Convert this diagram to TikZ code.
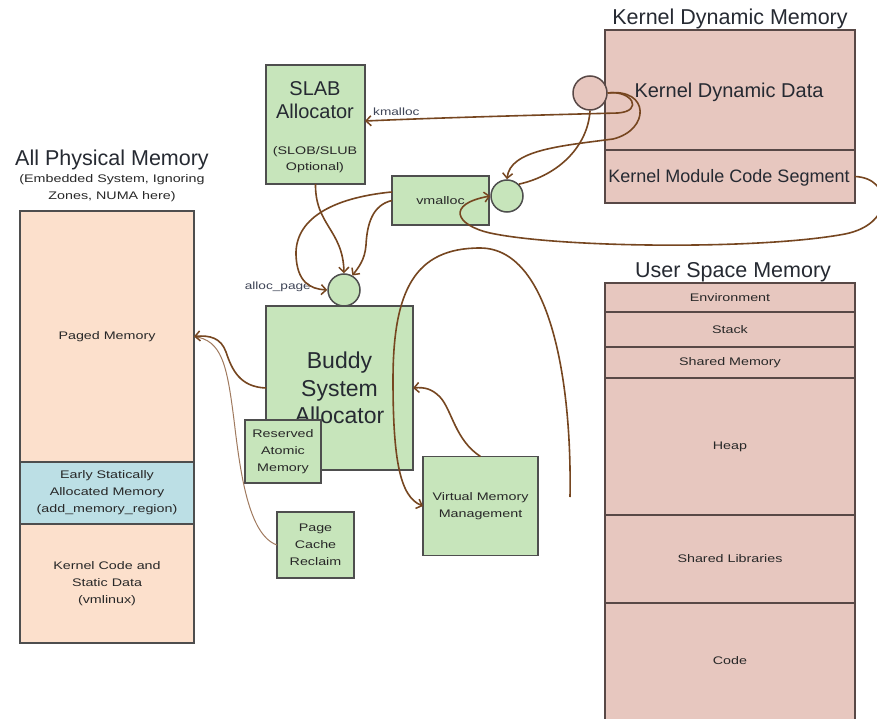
\documentclass[tikz,border=0pt]{standalone}
\usepackage{fontspec}
\setmainfont{Liberation Sans}
\newfontfamily\widesans[FakeStretch=1.3]{Liberation Sans}
\usetikzlibrary{arrows.meta}

\definecolor{peach}{RGB}{252,224,204}
\definecolor{paleblue}{RGB}{188,223,229}
\definecolor{kpink}{RGB}{231,199,191}
\definecolor{boxgreen}{RGB}{199,229,187}
\definecolor{edgegray}{RGB}{78,78,78}
\definecolor{kedge}{RGB}{88,72,70}
\definecolor{flowbrown}{RGB}{118,70,32}
\definecolor{thinbrown}{RGB}{160,122,95}
\definecolor{titleink}{RGB}{38,42,50}
\definecolor{smallink}{RGB}{40,40,40}
\definecolor{labelink}{RGB}{62,68,86}

\begin{document}
\begin{tikzpicture}[x=1pt,y=-1pt,
  region/.style={draw=edgegray, line width=1.4pt, inner sep=0pt, outer sep=0pt,
    minimum width=174, font=\widesans\fontsize{11}{17}\selectfont, text=smallink, align=center},
  kregion/.style={draw=kedge, fill=kpink, line width=1.4pt, inner sep=0pt, outer sep=0pt,
    minimum width=250, text=smallink, align=center},
  greenbox/.style={draw=edgegray, fill=boxgreen, line width=1.5pt, inner sep=0pt, outer sep=0pt, align=center},
  greendot/.style={circle, draw=edgegray, fill=boxgreen, line width=1.5pt, minimum size=32, inner sep=0pt},
  smalltext/.style={font=\widesans\fontsize{11}{17}\selectfont, text=smallink, align=center, inner sep=0pt},
  labeltext/.style={font=\widesans\fontsize{10.5}{14}\selectfont, text=labelink, inner sep=0pt},
  titletext/.style={font=\fontsize{21.5}{26}\selectfont, text=titleink, inner sep=0pt, anchor=base},
  flow/.style={draw=flowbrown, line width=1.6pt,
    -{Straight Barb[length=5pt,width=10pt,line width=1.5pt]}},
  link/.style={draw=flowbrown, line width=1.6pt},
  thinlink/.style={draw=thinbrown, line width=1pt}
]
\useasboundingbox (0,0) rectangle (877,719);
\clip (0,0) rectangle (877,719);
\fill[white] (0,0) rectangle (877,719);

% ---------- physical memory ----------
\node[titletext] (physT) at (112,166) {All Physical Memory};
\node[smalltext] (physS) at (112,188) {(Embedded System, Ignoring\\Zones, NUMA here)};
\node[region, fill=peach, minimum height=251] (paged) at (107,336.5) {Paged Memory};
\node[region, fill=paleblue, minimum height=62] (early) at (107,493)
  {Early Statically\\Allocated Memory\\(add\_memory\_region)};
\node[region, fill=peach, minimum height=119] (kcode) at (107,583.5)
  {Kernel Code and\\Static Data\\(vmlinux)};

% ---------- kernel dynamic memory ----------
\node[titletext] (kdynT) at (730,25) {Kernel Dynamic Memory};
\node[kregion, minimum height=120] (kdata) at (730,90) {};
\node[font=\fontsize{20}{24}\selectfont, text=titleink, anchor=base, inner sep=0pt] (kdataT) at (729,98) {Kernel Dynamic Data};
\node[kregion, minimum height=53] (kmcs) at (730,176.5) {};
\node[font=\fontsize{18}{22}\selectfont, text=titleink, anchor=base, inner sep=0pt] (kmcsT) at (729,183) {Kernel Module Code Segment};

% ---------- user space memory ----------
\node[titletext] (userT) at (733,277) {User Space Memory};
\begin{scope}[every node/.append style={font=\widesans\fontsize{11}{17}\selectfont}]
\node[kregion, minimum height=29] (env) at (730,297.5) {Environment};
\node[kregion, minimum height=35] (stack) at (730,329.5) {Stack};
\node[kregion, minimum height=31] (shm) at (730,362.5) {Shared Memory};
\node[kregion, minimum height=137] (heap) at (730,446.5) {Heap};
\node[kregion, minimum height=88] (shlib) at (730,559) {Shared Libraries};
\node[kregion, minimum height=116] (code) at (730,661) {Code};
\end{scope}
\fill[kpink] (605.7,690) rectangle (854.3,719);
\draw[draw=kedge, line width=1.4pt] (605,690) -- (605,719) (855,690) -- (855,719);

% ---------- allocators ----------
\node[greenbox, minimum width=99, minimum height=119] (slab) at (315.5,124.5) {};
\node[font=\fontsize{20}{24}\selectfont, text=titleink, anchor=base, inner sep=0pt] (slab1) at (315,96) {SLAB};
\node[font=\fontsize{20}{24}\selectfont, text=titleink, anchor=base, inner sep=0pt] (slab2) at (315,119) {Allocator};
\node[smalltext, anchor=base] (slab3) at (315,155) {(SLOB/SLUB};
\node[smalltext, anchor=base] (slab4) at (315,171) {Optional)};

\node[greenbox, minimum width=97, minimum height=49, font=\widesans\fontsize{11}{14}\selectfont, text=smallink] (vm) at (440.5,200.5) {vmalloc};

\node[greenbox, minimum width=147, minimum height=164, font=\fontsize{23}{27.5}\selectfont, text=titleink] (buddy) at (339.5,388) {Buddy\\System\\Allocator};
\node[greenbox, minimum width=76, minimum height=63, smalltext] (ram) at (283,451.5) {Reserved\\Atomic\\Memory};
\node[greenbox, minimum width=77, minimum height=66, smalltext] (pcache) at (315.5,545) {Page\\Cache\\Reclaim};
\node[greenbox, minimum width=115, minimum height=99, smalltext] (vmm) at (480.5,506) {Virtual Memory\\Management};

% ---------- entry points ----------
\node[circle, draw=kedge, fill=kpink, line width=1.5pt, minimum size=34, inner sep=0pt] (kc) at (590,93) {};
\node[greendot] (vc) at (507,196) {};
\node[greendot] (ac) at (344,290) {};

\node[labeltext, anchor=west] (kmal) at (373,112) {kmalloc};
\node[labeltext, anchor=east] (apg) at (311,287) {alloc\_page};
\coordinate (arcstart) at (570,497);

% ---------- connectors ----------
% kmalloc: out of the dynamic data, looping back to the slab allocator
\draw[flow] (kc.east) .. controls (632,90) and (644,111) .. (618,113)
  .. controls (540,115) and (430,118) .. (slab.4);
% dynamic data down to the vmalloc entry
\draw[flow] (kc.east) .. controls (650,88) and (650,130) .. (613,139)
  .. controls (560,146) and (510,150) .. (vc.north);
\draw[link] (kc.south) .. controls (588,145) and (560,175) .. (vc.45);
% module code segment loop into vmalloc
\draw[flow] (kmcs.east) .. controls (892,178) and (895,224) .. (845,234)
  .. controls (760,250) and (560,248) .. (490,233)
  .. controls (455,225) and (446,204) .. (vc.west);
% slab and vmalloc down to alloc_page
\draw[flow] (slab.south) .. controls (315,225) and (343,230) .. (ac.north);
\draw[flow] (vm.170) .. controls (330,198) and (295,220) .. (296,255)
  .. controls (297,282) and (310,289) .. (ac.west);
\draw[flow] (vm.west) .. controls (372,205) and (367,225) .. (366,245)
  .. controls (365,260) and (358,268) .. (ac.60);
% buddy allocator and page cache into paged memory
\draw[thinlink] (pcache.west) .. controls (248,535) and (240,470) .. (234,420)
  .. controls (227,365) and (222,340) .. (paged.east);
\draw[flow] (buddy.west) .. controls (240,387) and (232,370) .. (226,352)
  .. controls (221,338) and (210,335) .. (paged.east);
% virtual memory management
\draw[flow] (vmm.north) .. controls (455,440) and (452,410) .. (440,397)
  .. controls (432,389) and (425,387) .. (buddy.east);
\draw[flow] (arcstart) .. controls (572,380) and (550,248) .. (480,248)
  .. controls (415,248) and (393,290) .. (393,380)
  .. controls (393,460) and (400,497) .. (vmm.west);
\end{tikzpicture}
\end{document}
